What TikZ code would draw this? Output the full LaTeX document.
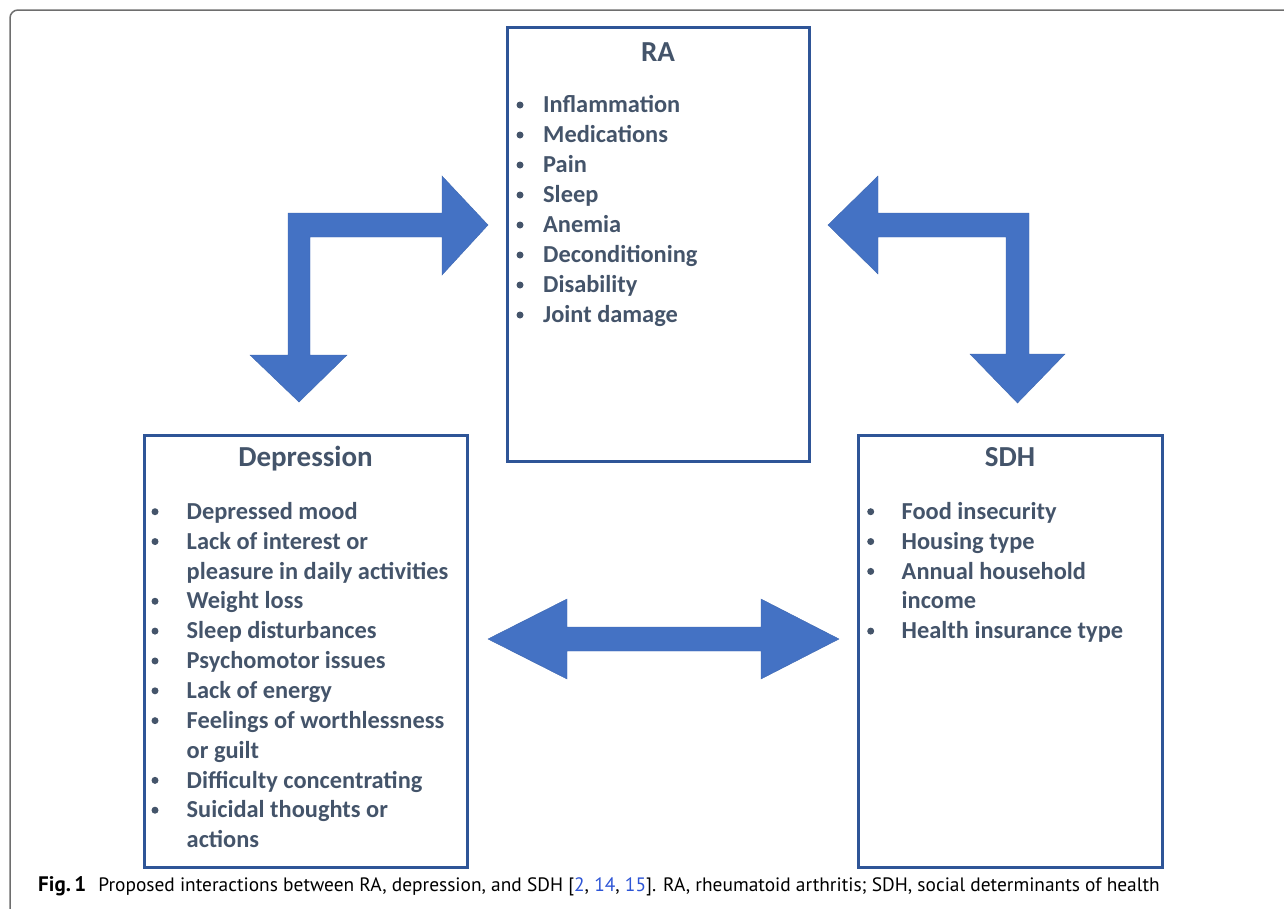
\documentclass[tikz,border=0pt]{standalone}
\usepackage{fontspec}
\setmainfont{Carlito}
\newfontfamily\capfont{PT Sans}
\definecolor{txt}{HTML}{44546A}
\definecolor{bord}{HTML}{2F5597}
\definecolor{arr}{HTML}{4472C4}
\definecolor{lnk}{HTML}{2D55D6}
\definecolor{frame}{HTML}{6E6E6E}
\begin{document}
\begin{tikzpicture}[x=1pt,y=-1pt,
  box/.style={draw=bord, line width=3pt, inner sep=0pt},
  ttl/.style={anchor=base, inner sep=0pt, text=txt, font=\bfseries\fontsize{29}{34}\selectfont},
  item/.style={anchor=base west, inner sep=0pt, text=txt, font=\bfseries\fontsize{24.4}{30}\selectfont},
  bul/.style={circle, fill=txt, inner sep=0pt, minimum size=7pt},
  blockarrow/.style={fill=arr, draw=arr!90!black, line width=0.4pt, line join=miter}]
\useasboundingbox (0,0) rectangle (1284,908);
% outer frame
\draw[frame, line width=1.5pt, rounded corners=8pt] (1300,10) -- (10,10) -- (10,920);

% boxes
\node[box, minimum width=302pt, minimum height=434pt] (ra) at (658,244) {};
\node[box, minimum width=323pt, minimum height=432pt] (dep) at (305.5,651) {};
\node[box, minimum width=304pt, minimum height=432pt] (sdh) at (1010,651) {};

% RA content
\node[ttl] (raT) at (658,61) {RA};
\foreach \t [count=\k from 0] in {Inflammation,Medications,Pain,Sleep,Anemia,Deconditioning,Disability,Joint damage}{
  \node[bul] (raB\k) at (520,105+30*\k) {};
  \node[item] (raI\k) at (543,112.7+30*\k) {\t};
}

% Depression content
\node[ttl] (depT) at (305.5,466) {Depression};
\foreach \t/\b [count=\k from 0] in {Depressed mood/1,Lack of interest or/1,pleasure in daily activities/0,Weight loss/1,Sleep disturbances/1,Psychomotor issues/1,Lack of energy/1,Feelings of worthlessness/1,or guilt/0,Difficulty concentrating/1,Suicidal thoughts or/1,actions/0}{
  \ifnum\b=1 \node[bul] (depB\k) at (155,511.7+29.85*\k) {};\fi
  \node[item] (depI\k) at (186.5,519.4+29.85*\k) {\t};
}

% SDH content
\node[ttl] (sdhT) at (1010,466.7) {SDH};
\foreach \t/\b [count=\k from 0] in {Food insecurity/1,Housing type/1,Annual household/1,income/0,Health insurance type/1}{
  \ifnum\b=1 \node[bul] (sdhB\k) at (870.7,511.7+29.85*\k) {};\fi
  \node[item] (sdhI\k) at (901.5,519.4+29.85*\k) {\t};
}

% block arrows
\fill[blockarrow] (299,402) -- (347,355) -- (310,355) -- (310,237) -- (442,237) -- (442,275)
  -- (488,225) -- (442,176) -- (442,213) -- (288,213) -- (288,355) -- (250,355) -- cycle;
\fill[blockarrow] (828,225) -- (878,176) -- (878,213) -- (1029,213) -- (1029,354) -- (1065,354)
  -- (1017.5,403) -- (970,354) -- (1006,354) -- (1006,237) -- (878,237) -- (878,274) -- cycle;
\fill[blockarrow] (488,639) -- (567,599) -- (567,627) -- (761,627) -- (761,599) -- (839,639)
  -- (761,679) -- (761,651) -- (567,651) -- (567,679) -- cycle;

% caption
\node[anchor=base west, inner sep=0pt, font=\capfont\fontsize{19.4}{22}\selectfont] (cap) at (38,891)
  {{\bfseries\fontsize{21}{22}\selectfont Fig.\,1}\hspace{12pt}Proposed interactions between RA, depression, and SDH [{\color{lnk}2}, {\color{lnk}14}, {\color{lnk}15}]. RA, rheumatoid arthritis; SDH, social determinants of health};
\end{tikzpicture}
\end{document}
